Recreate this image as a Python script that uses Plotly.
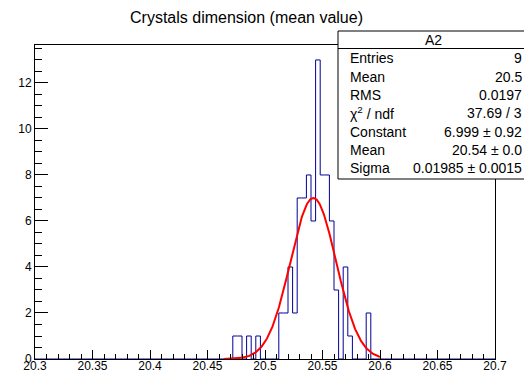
import numpy as np
import plotly.graph_objects as go

# Histogram binning: 100 equal bins over [20.3, 20.7]
n_bins = 100
x_low, x_high = 20.3, 20.7

# Non-empty bins (lower bin edge) and their entries
filled_bin_edges = [20.472, 20.476, 20.484, 20.492, 20.512, 20.516, 20.520,
                    20.524, 20.528, 20.532, 20.536, 20.540, 20.544, 20.548,
                    20.552, 20.556, 20.560, 20.568, 20.572, 20.588]
filled_bin_counts = [1, 1, 1, 1, 2, 2, 4, 2, 7, 7, 8, 6, 13, 8, 8, 6, 3, 4, 1, 2]

# Gaussian fit result and fit range
fit_constant = 6.999
fit_mean = 20.542
fit_sigma = 0.01985
fit_range = [20.464, 20.6]

# Axis ticks
x_tick_values = [20.3, 20.35, 20.4, 20.45, 20.5, 20.55, 20.6, 20.65, 20.7]
x_tick_labels = ["20.3", "20.35", "20.4", "20.45", "20.5", "20.55", "20.6", "20.65", "20.7"]
y_tick_values = [0, 2, 4, 6, 8, 10, 12]
y_tick_labels = ["0", "2", "4", "6", "8", "10", "12"]

# Statistics box content
stats_name = "A2"
stats_labels = ["Entries", "Mean", "RMS", "χ<sup>2</sup> / ndf", "Constant", "Mean", "Sigma"]
stats_values = ["9", "20.5", "0.0197", "37.69 / 3",
                f"{fit_constant:.3f} ± 0.92", f"{fit_mean:.2f} ± 0.0",
                f"{fit_sigma:.5f} ± 0.0015"]

title_text = "Crystals dimension (mean value)"

# ---- build the histogram contour ----
bin_width = (x_high - x_low) / n_bins
counts = np.zeros(n_bins)
for edge, c in zip(filled_bin_edges, filled_bin_counts):
    counts[int(round((edge - x_low) / bin_width))] = c
edges = x_low + bin_width * np.arange(n_bins + 1)
step_y = np.append(counts, counts[-1])

fx = np.linspace(fit_range[0], fit_range[1], 300)
fy = fit_constant * np.exp(-0.5 * ((fx - fit_mean) / fit_sigma) ** 2)

W, H = 524, 372
L, R, T, B = 35, 29, 45, 13
pw, ph = W - L - R, H - T - B


def px(x):
    return (x - L) / pw


def py(y):
    return (H - B - y) / ph


FONT = "Liberation Sans, Arial, Helvetica, sans-serif"

fig = go.Figure()
fig.add_trace(go.Scatter(x=edges, y=step_y, mode="lines", line_shape="hv",
                         line=dict(color="#000099", width=1), hoverinfo="skip"))
fig.add_trace(go.Scatter(x=fx, y=fy, mode="lines",
                         line=dict(color="#ff0000", width=2), hoverinfo="skip"))

axis_common = dict(showline=True, linecolor="black", linewidth=1, mirror=True,
                   showgrid=False, zeroline=False, ticks="inside", automargin=False,
                   tickcolor="black", tickwidth=1,
                   tickfont=dict(family=FONT, size=12, color="black"))

fig.update_xaxes(range=[x_low, x_high], tickmode="array", tickvals=x_tick_values,
                 ticktext=x_tick_labels, ticklen=9, ticklabelstandoff=-4,
                 minor=dict(tickmode="linear", tick0=x_low, dtick=0.01, ticks="inside",
                            ticklen=5, tickcolor="black", tickwidth=1),
                 **axis_common)
fig.update_yaxes(range=[0, 13.65], tickmode="array", tickvals=y_tick_values,
                 ticktext=y_tick_labels, ticklen=13,
                 minor=dict(tickmode="linear", tick0=0, dtick=0.5, ticks="inside",
                            ticklen=7, tickcolor="black", tickwidth=1),
                 **axis_common)

shapes = [
    dict(type="rect", xref="paper", yref="paper", x0=px(338), x1=px(530),
         y0=py(179), y1=py(31), fillcolor="white",
         line=dict(color="black", width=1), layer="above"),
    dict(type="line", xref="paper", yref="paper", x0=px(338), x1=px(530),
         y0=py(48.5), y1=py(48.5), line=dict(color="black", width=1), layer="above"),
]

annotations = [
    dict(text=title_text, xref="paper", yref="paper", x=px(246), y=py(17),
         xanchor="center", yanchor="middle", showarrow=False,
         font=dict(family=FONT, size=16, color="black")),
    dict(text=stats_name, xref="paper", yref="paper", x=px(433.5), y=py(40.5),
         xanchor="center", yanchor="middle", showarrow=False,
         font=dict(family=FONT, size=14, color="black")),
]
for i, (lab, val) in enumerate(zip(stats_labels, stats_values)):
    yc = 58.3 + 18.3 * i
    annotations.append(dict(text=lab, xref="paper", yref="paper", x=px(347.5), y=py(yc),
                            xanchor="left", yanchor="middle", showarrow=False,
                            font=dict(family=FONT, size=14, color="black")))
    annotations.append(dict(text=val, xref="paper", yref="paper", x=px(523.8), y=py(yc),
                            xanchor="right", yanchor="middle", showarrow=False,
                            font=dict(family=FONT, size=14, color="black")))

fig.update_layout(width=W, height=H, autosize=False,
                  margin=dict(l=L, r=R, t=T, b=B, pad=0, autoexpand=False),
                  paper_bgcolor="white", plot_bgcolor="white",
                  showlegend=False, shapes=shapes, annotations=annotations)

fig.write_html("out.html")
